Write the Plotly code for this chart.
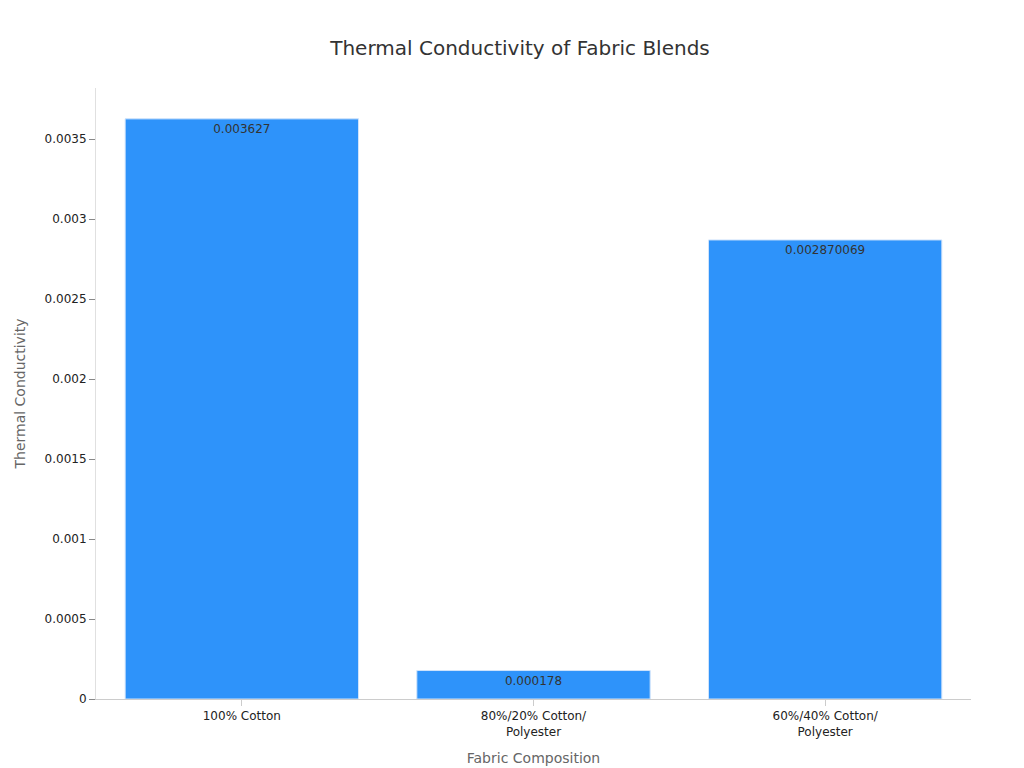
import plotly.graph_objects as go

fabrics = ["100% Cotton", "80%/20% Cotton/<br>Polyester", "60%/40% Cotton/<br>Polyester"]
conductivity = [0.003627, 0.000178, 0.002870069]
labels = ["0.003627", "0.000178", "0.002870069"]

fig = go.Figure(go.Bar(
    x=fabrics, y=conductivity, text=labels,
    textposition="inside", insidetextanchor="end",
    textfont=dict(color="#333333", size=12),
    marker=dict(color="#2E93FA", line=dict(color="#cfe3fb", width=1)),
    width=0.8,
))

fig.update_layout(
    width=1024, height=768,
    title=dict(text="Thermal Conductivity of Fabric Blends", x=0.5, y=0.957,
               font=dict(size=20, color="#333333")),
    font=dict(family="DejaVu Sans, sans-serif", size=12, color="#222222"),
    plot_bgcolor="white", paper_bgcolor="white",
    margin=dict(l=88, r=61, t=80, b=77),
    showlegend=False,
)
fig.update_xaxes(
    title=dict(text="Fabric Composition", font=dict(size=14, color="#666666")),
    showline=True, linecolor="#cccccc", ticks="outside", tickcolor="#cccccc",
    ticklen=6,
)
fig.update_yaxes(
    title=dict(text="Thermal Conductivity", font=dict(size=14, color="#666666")),
    range=[0, 0.00382], dtick=0.0005, showgrid=False, zeroline=False,
    showline=True, linecolor="#e0e0e0", ticks="outside", tickcolor="#888888",
    ticklen=6, tickformat="~g",
)

fig.write_html("out.html")
